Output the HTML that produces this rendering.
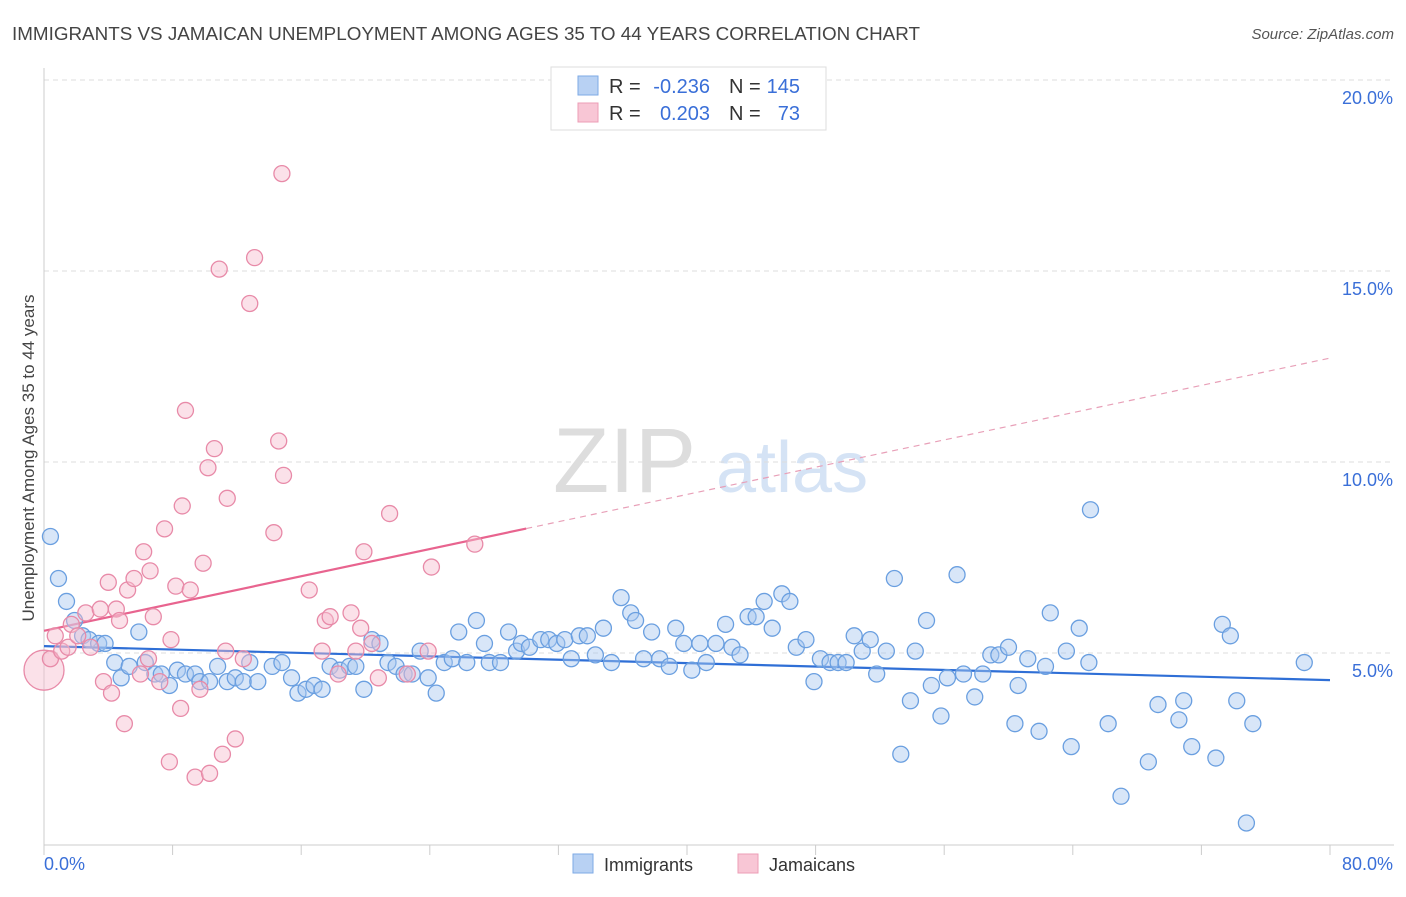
<!DOCTYPE html>
<html><head><meta charset="utf-8"><style>
body{margin:0;background:#fff;font-family:"Liberation Sans",sans-serif}
svg text{font-family:"Liberation Sans",sans-serif}
</style></head><body>
<svg id="chart" width="1406" height="892" xmlns="http://www.w3.org/2000/svg">
<text x="12" y="40" font-size="18" fill="#444" textLength="908" lengthAdjust="spacingAndGlyphs">IMMIGRANTS VS JAMAICAN UNEMPLOYMENT AMONG AGES 35 TO 44 YEARS CORRELATION CHART</text>
<text x="1394" y="39" font-size="15" fill="#555" text-anchor="end" font-style="italic">Source: ZipAtlas.com</text>
<g>
<text x="553" y="492" font-size="92" fill="#ddd" font-family="Liberation Serif">ZIP</text>
<text x="716" y="492" font-size="72" fill="#d5e3f5">atlas</text></g>
<g id="grid"></g><g id="axes"></g><g id="trend"></g><g id="pts"></g>
<text transform="translate(34,458) rotate(-90)" font-size="17" fill="#444" text-anchor="middle">Unemployment Among Ages 35 to 44 years</text>
<text x="44" y="870" font-size="18" fill="#3a6fd8">0.0%</text>
<text x="1393" y="870" font-size="18" fill="#3a6fd8" text-anchor="end">80.0%</text>
<g>
<rect x="551" y="67" width="275" height="63" fill="#fff" stroke="#ddd"/>
<rect x="578" y="76" width="20" height="19" fill="#b8d1f3" stroke="#7eaae6"/>
<rect x="578" y="103" width="20" height="19" fill="#f8c6d5" stroke="#ec9db6"/>
<text x="609" y="93" font-size="20" fill="#333">R =</text>
<text x="710" y="93" font-size="20" fill="#3a6fd8" text-anchor="end">-0.236</text>
<text x="729" y="93" font-size="20" fill="#333">N =</text>
<text x="800" y="93" font-size="20" fill="#3a6fd8" text-anchor="end">145</text>
<text x="609" y="120" font-size="20" fill="#333">R =</text>
<text x="710" y="120" font-size="20" fill="#3a6fd8" text-anchor="end">0.203</text>
<text x="729" y="120" font-size="20" fill="#333">N =</text>
<text x="800" y="120" font-size="20" fill="#3a6fd8" text-anchor="end">73</text>
</g>
<g>
<rect x="573" y="854" width="20" height="19" fill="#b8d1f3" stroke="#7eaae6"/>
<text x="604" y="871" font-size="18" fill="#333">Immigrants</text>
<rect x="738" y="854" width="20" height="19" fill="#f8c6d5" stroke="#ec9db6"/>
<text x="769" y="871" font-size="18" fill="#333">Jamaicans</text>
</g>
</svg>
<script>
const yTicks=[5,10,15,20];
const yTickLabels=["5.0%","10.0%","15.0%","20.0%"];
const xTicks=[0,8,16,24,32,40,48,56,64,72,80];
const blueX=[0.4,0.9,1.4,1.9,2.4,2.8,3.4,3.8,4.4,4.8,5.3,5.9,6.3,6.9,7.3,7.8,8.3,8.8,9.4,9.7,10.3,10.8,11.4,11.9,12.4,12.8,13.3,14.2,14.8,15.4,15.8,16.3,16.8,17.3,17.8,18.4,19.0,19.4,19.9,20.4,20.9,21.4,21.9,22.4,22.9,23.4,23.9,24.4,24.9,25.4,25.8,26.3,26.9,27.4,27.7,28.4,28.9,29.4,29.7,30.2,30.9,31.4,31.9,32.4,32.8,33.3,33.8,34.3,34.8,35.3,35.9,36.5,36.8,37.3,37.8,38.3,38.9,39.3,39.8,40.3,40.8,41.2,41.8,42.4,42.8,43.3,43.8,44.3,44.8,45.3,45.9,46.4,46.8,47.4,47.9,48.3,48.9,49.4,49.9,50.4,50.9,51.4,51.8,52.4,52.9,53.9,53.3,54.2,54.9,55.2,55.8,56.2,56.8,57.2,57.9,58.4,58.9,59.4,60.0,60.4,60.6,61.2,61.9,62.3,62.6,63.6,63.9,64.4,65.0,65.1,66.2,67.0,68.7,69.3,70.6,70.9,71.4,72.9,73.3,73.8,74.2,74.8,75.2,78.4];
const blueY=[8.05,6.95,6.35,5.85,5.45,5.35,5.25,5.25,4.75,4.35,4.65,5.55,4.75,4.45,4.45,4.15,4.55,4.45,4.45,4.25,4.25,4.65,4.25,4.35,4.25,4.75,4.25,4.65,4.75,4.35,3.95,4.05,4.15,4.05,4.65,4.55,4.65,4.65,4.05,5.35,5.25,4.75,4.65,4.45,4.45,5.05,4.35,3.95,4.75,4.85,5.55,4.75,5.85,5.25,4.75,4.75,5.55,5.05,5.25,5.15,5.35,5.35,5.25,5.35,4.85,5.45,5.45,4.95,5.65,4.75,6.45,6.05,5.85,4.85,5.55,4.85,4.65,5.65,5.25,4.55,5.25,4.75,5.25,5.75,5.15,4.95,5.95,5.95,6.35,5.65,6.55,6.35,5.15,5.35,4.25,4.85,4.75,4.75,4.75,5.45,5.05,5.35,4.45,5.05,6.95,3.75,2.35,5.05,5.85,4.15,3.35,4.35,7.05,4.45,3.85,4.45,4.95,4.95,5.15,3.15,4.15,4.85,2.95,4.65,6.05,5.05,2.55,5.65,4.75,8.75,3.15,1.25,2.15,3.65,3.25,3.75,2.55,2.25,5.75,5.45,3.75,0.55,3.15,4.75];
const pinkX=[0,0.4,0.7,1.1,1.5,1.7,2.1,2.6,2.9,3.5,3.7,4.0,4.2,4.5,4.7,5.0,5.2,5.6,6.0,6.2,6.5,6.6,6.8,7.2,7.5,7.8,7.9,8.2,8.5,8.6,8.8,9.1,9.4,9.7,9.9,10.2,10.3,10.6,10.9,11.1,11.3,11.4,11.9,12.4,12.8,13.1,14.3,14.6,14.8,14.9,16.5,17.3,17.5,17.8,18.3,19.1,19.4,19.7,19.9,20.4,20.8,21.5,22.6,23.9,24.1,26.8];
const pinkY=[4.55,4.85,5.45,5.05,5.15,5.75,5.45,6.05,5.15,6.15,4.25,6.85,3.95,6.15,5.85,3.15,6.65,6.95,4.45,7.65,4.85,7.15,5.95,4.25,8.25,2.15,5.35,6.75,3.55,8.85,11.35,6.65,1.75,4.05,7.35,9.85,1.85,10.35,15.05,2.35,5.05,9.05,2.75,4.85,14.15,15.35,8.15,10.55,17.55,9.65,6.65,5.05,5.85,5.95,4.45,6.05,5.05,5.65,7.65,5.25,4.35,8.65,4.45,5.05,7.25,7.85];
const blueTrend=[5.18,4.29];
const pinkTrend=[5.58,12.72];
const pinkSolidEnd=30;

const NS="http://www.w3.org/2000/svg";
const X0=44,X1=1330,Y0=844,YPX=38.2;
const xs=v=>X0+(v/80)*(X1-X0);
const ys=v=>Y0-v*YPX;
function mk(tag,attrs,parent){const e=document.createElementNS(NS,tag);for(const k in attrs)e.setAttribute(k,attrs[k]);parent.appendChild(e);return e;}
const grid=document.getElementById('grid'),axes=document.getElementById('axes'),trend=document.getElementById('trend'),pts=document.getElementById('pts');
yTicks.forEach((t,i)=>{
 const l=mk('line',{x1:X0,x2:1394,y1:ys(t),y2:ys(t),stroke:'#ddd','stroke-dasharray':'5,4'},grid);
 
 
 const tx=mk('text',{x:1393,y:ys(t)+24,'font-size':18,fill:'#3a6fd8','text-anchor':'end'},grid);
 tx.textContent=yTickLabels[i];
 
 
});
const ya=mk('line',{x1:X0,x2:X0,y1:68,y2:Y0+1,stroke:'#ccc'},axes);


const xa=mk('line',{x1:X0,x2:1394,y1:Y0+1,y2:Y0+1,stroke:'#ccc'},axes);


xTicks.forEach(t=>{
 const l=mk('line',{x1:xs(t),x2:xs(t),y1:Y0+1,y2:Y0+11,stroke:'#ccc'},axes);
 
 
});
function dots(X,Y,fill,stroke,name){
 X.forEach((x,i)=>{
  const r=(name==='jamaican-point'&&i===0)?20:8;
  const c=mk('circle',{cx:xs(x),cy:ys(Y[i]),r:r,fill:fill,'fill-opacity':0.45,stroke:stroke,'stroke-width':1.3},pts);
  
  
 });
}
dots(blueX,blueY,'#a9c8f0','#6a9fe0','immigrant-point');
dots(pinkX,pinkY,'#f7bccf','#e88aa8','jamaican-point');
const bl=mk('line',{x1:xs(0),y1:ys(blueTrend[0]),x2:xs(80),y2:ys(blueTrend[1]),stroke:'#2f6fd6','stroke-width':2.2},trend);


const pAt=x=>pinkTrend[0]+(pinkTrend[1]-pinkTrend[0])*x/80;
const ps=mk('line',{x1:xs(0),y1:ys(pAt(0)),x2:xs(pinkSolidEnd),y2:ys(pAt(pinkSolidEnd)),stroke:'#e8648f','stroke-width':2.2},trend);


const pd=mk('line',{x1:xs(pinkSolidEnd),y1:ys(pAt(pinkSolidEnd)),x2:xs(80),y2:ys(pAt(80)),stroke:'#e8a0b8','stroke-width':1.2,'stroke-dasharray':'6,5'},trend);


</script>
</body></html>
